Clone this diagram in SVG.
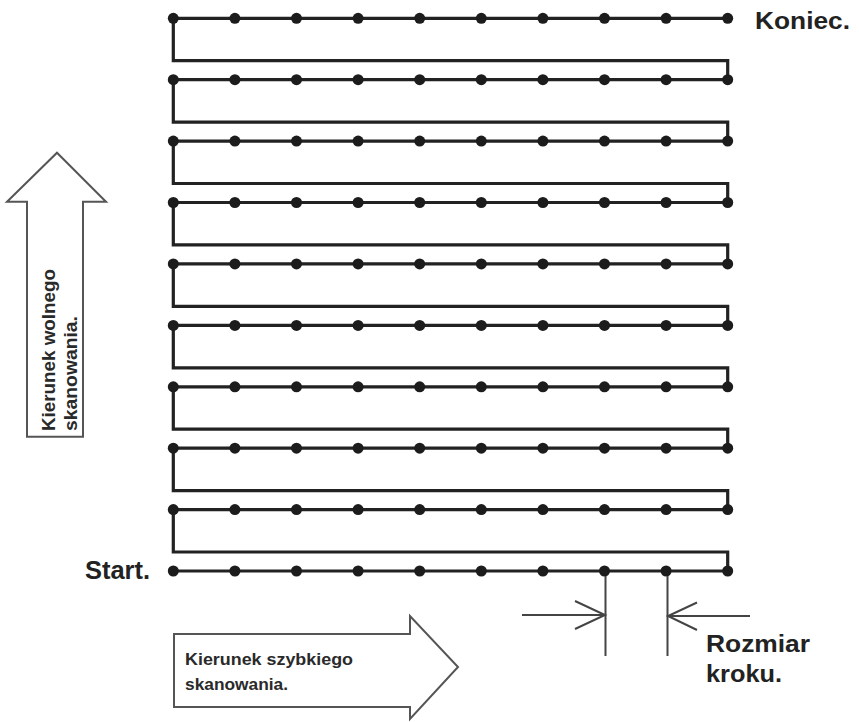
<svg xmlns="http://www.w3.org/2000/svg" xmlns:xlink="http://www.w3.org/1999/xlink" width="859" height="722" viewBox="0 0 859 722">
<style>
.path{fill:none;stroke:#222;stroke-width:3.2;stroke-linejoin:miter}
.dot{fill:#1c1c1c}
.big{font-family:"Liberation Sans",Arial,sans-serif;font-weight:bold;fill:#222}
.small{font-family:"Liberation Sans",Arial,sans-serif;font-weight:bold;fill:#2a2a2a}
.arrow{fill:#fff;stroke:#555;stroke-width:2;stroke-linejoin:miter}
.dim{fill:none;stroke:#444;stroke-width:2}
</style>
<defs>
<g id="row">
<circle class="dot" cx="173.3" cy="0" r="5.5"/>
<circle class="dot" cx="234.9" cy="0" r="5.5"/>
<circle class="dot" cx="296.5" cy="0" r="5.5"/>
<circle class="dot" cx="358.1" cy="0" r="5.5"/>
<circle class="dot" cx="419.7" cy="0" r="5.5"/>
<circle class="dot" cx="481.3" cy="0" r="5.5"/>
<circle class="dot" cx="542.9" cy="0" r="5.5"/>
<circle class="dot" cx="604.5" cy="0" r="5.5"/>
<circle class="dot" cx="666.1" cy="0" r="5.5"/>
<circle class="dot" cx="727.7" cy="0" r="5.5"/>
</g>
</defs>
<rect width="859" height="722" fill="#fff"/>
<g id="connectors">
<path class="path" d="M173.3 571 H727.7 V552 H173.3 V509.6 H727.7 V490.6 H173.3 V448.2 H727.7 V429.2 H173.3 V386.8 H727.7 V367.8 H173.3 V325.4 H727.7 V306.4 H173.3 V263.9 H727.7 V244.9 H173.3 V202.5 H727.7 V183.5 H173.3 V141.1 H727.7 V122.1 H173.3 V79.7 H727.7 V60.7 H173.3 V18.3 H727.7"/>
</g>
<g id="dots">
<use xlink:href="#row" y="571"/>
<use xlink:href="#row" y="509.6"/>
<use xlink:href="#row" y="448.2"/>
<use xlink:href="#row" y="386.8"/>
<use xlink:href="#row" y="325.4"/>
<use xlink:href="#row" y="263.9"/>
<use xlink:href="#row" y="202.5"/>
<use xlink:href="#row" y="141.1"/>
<use xlink:href="#row" y="79.7"/>
<use xlink:href="#row" y="18.3"/>
</g>
<g id="koniec"><text class="big" x="755" y="28.5" font-size="24" textLength="95" lengthAdjust="spacingAndGlyphs">Koniec.</text></g>
<g id="start"><text class="big" x="85" y="578.5" font-size="25" textLength="65" lengthAdjust="spacingAndGlyphs">Start.</text></g>
<g id="slow-arrow">
<path class="arrow" d="M57 152.7 L106 201.7 H83 V436.7 H27 V201.7 H7 Z"/>
<text class="small" transform="translate(55,431) rotate(-90)" font-size="18" textLength="162" lengthAdjust="spacingAndGlyphs">Kierunek wolnego</text>
<text class="small" transform="translate(77,431) rotate(-90)" font-size="18" textLength="115" lengthAdjust="spacingAndGlyphs">skanowania.</text>
</g>
<g id="fast-arrow">
<path class="arrow" d="M174 634 H410 V616 L458 667 L410 719 V707 H174 Z"/>
<text class="small" x="185" y="665" font-size="17" textLength="168" lengthAdjust="spacingAndGlyphs">Kierunek szybkiego</text>
<text class="small" x="185" y="690" font-size="17" textLength="103" lengthAdjust="spacingAndGlyphs">skanowania.</text>
</g>
<g id="step-size">
<path class="dim" d="M605.5 576 V656 M667.5 576 V656"/>
<path class="dim" d="M522 615 H605 M575 601 L605 615 L575 629"/>
<path class="dim" d="M750 616 H668 M697 602.5 L668 616 L697 630"/>
<text class="big" x="706" y="651.5" font-size="23" textLength="104" lengthAdjust="spacingAndGlyphs">Rozmiar</text>
<text class="big" x="706" y="681.5" font-size="23" textLength="76" lengthAdjust="spacingAndGlyphs">kroku.</text>
</g>
</svg>
